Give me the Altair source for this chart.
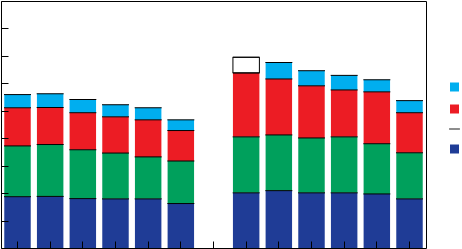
import altair as alt
import pandas as pd

# ---- data ----
categories = ["A1", "A2", "A3", "A4", "A5", "A6", "gap",
              "B1", "B2", "B3", "B4", "B5", "B6"]
series_names = ["Series 1", "Series 2", "Series 3", "Series 4", "Series 5"]
seg_s1 = [1.87, 1.88, 1.80, 1.79, 1.79, 1.62, None, 2.01, 2.09, 2.01, 2.01, 1.97, 1.79]
seg_s2 = [1.85, 1.89, 1.78, 1.67, 1.53, 1.55, None, 2.04, 2.03, 2.00, 2.04, 1.83, 1.68]
seg_s3 = [1.39, 1.35, 1.35, 1.32, 1.35, 1.11, None, 2.33, 2.04, 1.90, 1.71, 1.89, 1.46]
seg_s4 = [0.48, 0.50, 0.48, 0.44, 0.44, 0.39, None, 0.00, 0.60, 0.55, 0.53, 0.44, 0.44]
seg_s5 = [0.00, 0.00, 0.00, 0.00, 0.00, 0.00, None, 0.57, 0.00, 0.00, 0.00, 0.00, 0.00]
series_colors = ["#1f3c96", "#00a05c", "#ec1c24", "#00aeef", "#000000"]
legend_values = ["Series 4", "Series 3", "Series 5", "Series 1"]
line_symbol = "M-1.2,-0.1H1.2V0.1H-1.2Z"
legend_shapes = ["square", "square", "square", "square", line_symbol]

rows = []
for i, cat in enumerate(categories):
    base = 0.0
    for k, seg in enumerate([seg_s1, seg_s2, seg_s3, seg_s4, seg_s5]):
        v = seg[i]
        if v is None or v <= 0:
            continue
        rows.append({"category": cat, "series": series_names[k], "order": k,
                     "start": base, "end": base + v})
        base += v
df = pd.DataFrame(rows)
df_main = df[df["series"] != "Series 5"]
df_box = df[df["series"] == "Series 5"]

W, H = 425, 247

x_scale = alt.Scale(domain=categories, paddingInner=0.19, paddingOuter=0.1)
x_axis = alt.Axis(orient="top", offset=-H, labels=False, title=None,
                  domain=False, grid=False, tickSize=7, zindex=1,
                  tickColor="black", tickWidth=1)
y_scale = alt.Scale(domain=[0, 9], nice=False, zero=True)
y_axis = alt.Axis(orient="right", offset=-W, labels=False, title=None,
                  domain=False, grid=False, values=list(range(0, 10)), zindex=1,
                  tickSize=7, tickColor="black", tickWidth=1)
c_scale = alt.Scale(domain=series_names, range=series_colors)
leg = alt.Legend(title=None, orient="none", legendX=448.5, legendY=81,
                 values=legend_values, symbolSize=81, symbolStrokeColor="black",
                 symbolStrokeWidth=1, symbolOpacity=1, labelExpr="''",
                 rowPadding=8, padding=0)

x_enc = alt.X("category:N", scale=x_scale, axis=x_axis)
y_enc = alt.Y("end:Q", scale=y_scale, axis=y_axis)

bars = alt.Chart(df_main).mark_bar().encode(
    x=x_enc,
    y=y_enc,
    y2="start:Q",
    color=alt.Color("series:N", scale=c_scale, legend=leg),
)

box = alt.Chart(df_box).mark_bar(fill="white", stroke="black", strokeWidth=1).encode(
    x=x_enc,
    y=y_enc,
    y2="start:Q",
)

ticks = alt.Chart(df).mark_tick(color="black", thickness=1, size=27, opacity=1).encode(
    x=x_enc,
    y=y_enc,
)

legend_pts = alt.Chart(df).transform_filter("false").mark_point(filled=True).encode(
    x=x_enc,
    y=y_enc,
    color=alt.Color("series:N", scale=c_scale, legend=leg),
    shape=alt.Shape("series:N", scale=alt.Scale(domain=series_names, range=legend_shapes),
                    legend=leg),
)

chart = alt.layer(bars, box, ticks, legend_pts).properties(
    width=W, height=H,
    autosize=alt.AutoSizeParams(type="none"),
    padding={"left": 1, "top": 1, "right": 36, "bottom": 1},
    background="white",
).configure_view(stroke="black", strokeWidth=1)

chart.save("out.html", embed_options={"renderer": "svg", "actions": False})
